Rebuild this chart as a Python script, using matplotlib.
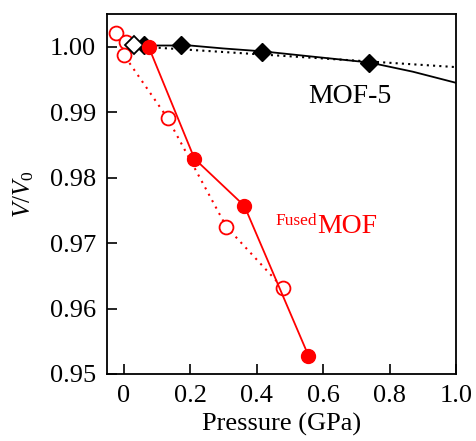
import matplotlib
matplotlib.use("Agg")
import matplotlib.pyplot as plt

plt.rcParams['font.family'] = ['Liberation Serif', 'DejaVu Serif']
plt.rcParams['mathtext.fontset'] = 'custom'
plt.rcParams['mathtext.rm'] = 'Liberation Serif'
plt.rcParams['mathtext.it'] = 'Liberation Serif:italic'

# Fused MOF, filled circles (solid line)
fused_p = [0.075, 0.213, 0.363, 0.556]
fused_v = [1.0000, 0.9829, 0.9757, 0.9528]
# Fused MOF, open circles (dotted line)
fused_open_p = [-0.024, 0.006, 0.0, 0.132, 0.309, 0.480]
fused_open_v = [1.0021, 1.0008, 0.9988, 0.9891, 0.9725, 0.9631]

# MOF-5 diamonds
mof5_p = [0.06, 0.171, 0.417, 0.739]
mof5_v = [1.0003, 1.0003, 0.9992, 0.9976]
mof5_open_p = [0.03]
mof5_open_v = [1.0003]

# MOF-5 fit curves
fit_solid_p = [0.06, 0.2, 0.3, 0.42, 0.55, 0.74, 0.87, 1.0]
fit_solid_v = [1.0002, 1.0002, 0.99975, 0.9993, 0.9986, 0.9976, 0.9962, 0.9945]
fit_dot_p = [0.03, 1.0]
fit_dot_v = [1.0001, 0.9969]

fig = plt.figure(figsize=(4.76, 4.41), dpi=100)
ax = fig.add_axes([0.225, 0.152, 0.733, 0.816])

red = '#ff0000'
ax.plot(fit_solid_p, fit_solid_v, color='black', lw=1.3, zorder=2)
ax.plot(fit_dot_p, fit_dot_v, color='black', lw=1.5, ls=(0, (1.0, 2.0)), zorder=2)
ax.plot(mof5_p, mof5_v, ls='none', marker='D', ms=9, color='black', zorder=4)
ax.plot(mof5_open_p, mof5_open_v, ls='none', marker='D', ms=9, mfc='white',
        mec='black', mew=1.3, zorder=4)

ax.plot(fused_open_p, fused_open_v, color=red, lw=1.5, ls=(0, (1.0, 2.5)),
        marker='o', ms=10, mfc='white', mec=red, mew=1.3, zorder=3)
ax.plot(fused_p, fused_v, color=red, lw=1.3, marker='o', ms=10,
        mfc=red, mec=red, zorder=5)

# labels
ax.text(0.556, 0.99144, 'MOF-5', fontsize=20, ha='left', va='baseline')
ax.text(0.583, 0.9716, 'MOF', fontsize=20, color=red, ha='left', va='baseline')
ax.annotate('Fused', xy=(0.583, 0.9716), xytext=(0, 5.8),
            textcoords='offset points', fontsize=12.5, color=red,
            ha='right', va='baseline')

ax.set_xlim(-0.05, 1.0)
ax.set_ylim(0.95, 1.005)
ax.set_xticks([0, 0.2, 0.4, 0.6, 0.8, 1.0])
ax.set_xticklabels(['0', '0.2', '0.4', '0.6', '0.8', '1.0'])
ax.set_yticks([0.95, 0.96, 0.97, 0.98, 0.99, 1.00])
ax.set_yticklabels(['0.95', '0.96', '0.97', '0.98', '0.99', '1.00'])
ax.tick_params(direction='in', length=7, width=1.2, labelsize=19)
ax.tick_params(axis='x', pad=8)
ax.tick_params(axis='y', pad=8)
for s in ax.spines.values():
    s.set_linewidth(1.3)

ax.set_xlabel('Pressure (GPa)', fontsize=19, labelpad=4)
ax.set_ylabel(r'$\mathit{V}/\mathit{V}_\mathrm{0}$', fontsize=18, labelpad=10)

fig.savefig('out.png', dpi=100)
